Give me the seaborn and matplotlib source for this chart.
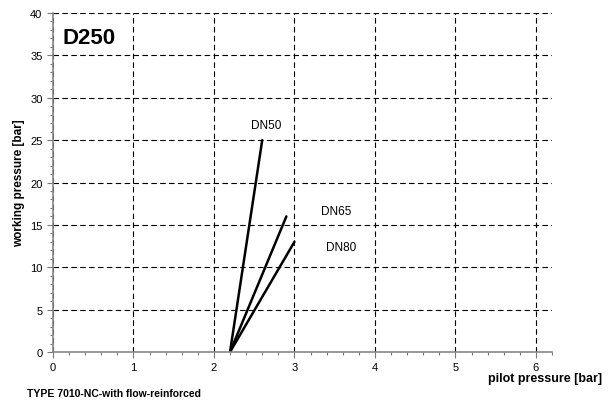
import numpy as np
import pandas as pd
import matplotlib
matplotlib.use("Agg")
import matplotlib.pyplot as plt
import seaborn as sns
from matplotlib.ticker import MultipleLocator

# curves: start point and end point of each valve size
sizes = ["DN50", "DN65", "DN80"]
pilot_start = [2.2, 2.2, 2.2]
pilot_end = [2.6, 2.9, 3.0]
work_start = [0, 0, 0]
work_end = [25, 16, 13]
label_x = [2.65, 3.52, 3.58]
label_y = [26.8, 16.6, 12.4]

rows = []
for i, name in enumerate(sizes):
    rows.append((name, pilot_start[i], work_start[i]))
    rows.append((name, pilot_end[i], work_end[i]))
df = pd.DataFrame(rows, columns=["size", "pilot", "working"])

sns.set_style("white")
plt.rcParams['font.family'] = ['Liberation Sans', 'DejaVu Sans']
plt.rcParams['text.color'] = 'black'
plt.rcParams['axes.labelcolor'] = 'black'
plt.rcParams['xtick.labelcolor'] = 'black'
plt.rcParams['ytick.labelcolor'] = 'black'

fig = plt.figure(figsize=(6.08, 4.06), dpi=100)
ax = fig.add_axes([0.087, 0.1305, 0.821, 0.835])

sns.lineplot(data=df, x="pilot", y="working", units="size", estimator=None,
             color="black", linewidth=1.8, ax=ax, legend=False, sort=False)

for i, name in enumerate(sizes):
    ax.text(label_x[i], label_y[i], name, fontsize=8.5, ha="center", va="center")

ax.set_xlim(0, 6.2)
ax.set_ylim(0, 40)
ax.xaxis.set_major_locator(MultipleLocator(1))
ax.xaxis.set_minor_locator(MultipleLocator(0.2))
ax.yaxis.set_major_locator(MultipleLocator(5))
ax.yaxis.set_minor_locator(MultipleLocator(1))
ax.grid(True, which="major", color="black", linestyle=(0, (5, 3)), linewidth=0.8)
ax.tick_params(which="both", direction="out", color="#777777", labelsize=8)
ax.tick_params(which="major", length=4, width=0.8, bottom=True, left=True)
ax.tick_params(which="minor", length=2.5, width=0.8, bottom=True, left=True)
for s in ["top", "right"]:
    ax.spines[s].set_visible(False)
for s in ["left", "bottom"]:
    ax.spines[s].set_color("#888888")
    ax.spines[s].set_linewidth(1.2)

ax.set_xlabel("")
ax.set_ylabel("working pressure [bar]", fontsize=8.5, fontweight="bold", labelpad=4)
ax.text(0.12, 38.3, "D250", fontsize=16, fontweight="bold", va="top", ha="left",
        bbox=dict(facecolor="white", edgecolor="none", pad=1))
fig.text(0.99, 0.06, "pilot pressure [bar]", fontsize=9, fontweight="bold", ha="right")
fig.text(0.045, 0.022, "TYPE 7010-NC-with flow-reinforced", fontsize=7.5, fontweight="bold", ha="left")

fig.savefig("out.png", dpi=100)
